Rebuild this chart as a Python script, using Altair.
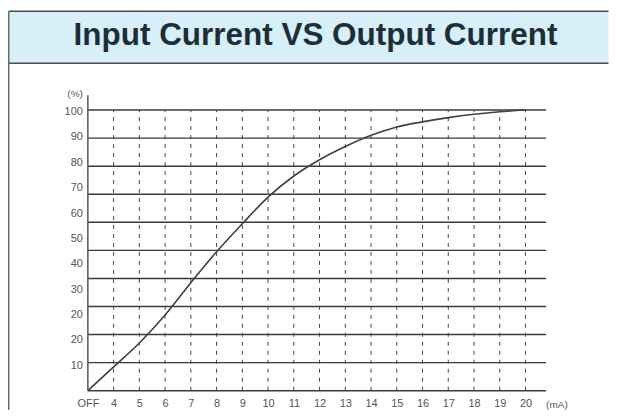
import altair as alt
import pandas as pd

# ---- data ----
title_text = "Input Current VS Output Current"
x_ticks = [3, 4, 5, 6, 7, 8, 9, 10, 11, 12, 13, 14, 15, 16, 17, 18, 19, 20]  # 3 is shown as "OFF"
curve_x = [3, 4, 5, 6, 7, 8, 9, 10, 11, 12, 13, 14, 15, 16, 17, 18, 19, 20]
curve_y = [0, 8.5, 17, 27, 38.5, 49.5, 59.5, 69, 76.5, 82.3, 87, 91, 94, 95.8, 97.3, 98.5, 99.4, 100]
y_grid = [0, 10, 20, 30, 40, 50, 60, 70, 80, 90, 100]
y_tick_labels = ["100", "90", "80", "70", "60", "50", "40", "30", "20", "20", "10"]
x_unit = "(mA)"
y_unit = "(%)"

# label positions in the reference drift from the grid: evenly from 99.3 down to 8.9
label_pos = [99.3 - i * (99.3 - 8.9) / (len(y_tick_labels) - 1) for i in range(len(y_tick_labels))]

W, H = 459, 296
XDOM = [3, 20.8]
YDOM = [0, 105.3]
FONT = "Liberation Sans"

curve_df = pd.DataFrame({"x": curve_x, "y": curve_y})
hgrid_df = pd.DataFrame({"y": y_grid})
vgrid_df = pd.DataFrame({"x": x_ticks[1:], "y0": [0] * (len(x_ticks) - 1), "y1": [100] * (len(x_ticks) - 1)})
ylab_df = pd.DataFrame({"label": y_tick_labels, "pos": label_pos})
one = pd.DataFrame({"t": [title_text]})

xs = alt.Scale(domain=XDOM, nice=False, zero=False)
ys = alt.Scale(domain=YDOM, nice=False, zero=False)

x_axis = alt.Axis(
    values=x_ticks,
    labelExpr="datum.value == 3 ? 'OFF' : datum.label",
    grid=False, domain=False, ticks=False, title=None,
    labelFontSize=11, labelColor="#555555", labelPadding=7, labelFont=FONT,
    labelOverlap=False, labelFlush=False, labelBound=False,
)

# decorative frame
BOX_L, BOX_R, BOX_T, BOX_B = -79.25, 521.5, -84, -32
title_box = alt.Chart(one).mark_rect(fill="#d7eff8").encode(
    x=alt.value(BOX_L), x2=alt.value(BOX_R), y=alt.value(BOX_T), y2=alt.value(BOX_B)
)
box_top = alt.Chart(one).mark_rule(color="#4a4a4a", strokeWidth=1.5).encode(
    x=alt.value(BOX_L), x2=alt.value(BOX_R), y=alt.value(BOX_T)
)
box_bottom = alt.Chart(one).mark_rule(color="#4a4a4a", strokeWidth=1.5).encode(
    x=alt.value(BOX_L), x2=alt.value(BOX_R), y=alt.value(BOX_B)
)
panel_left = alt.Chart(one).mark_rule(color="#6a6a6a", strokeWidth=1.5).encode(
    x=alt.value(BOX_L), y=alt.value(BOX_T), y2=alt.value(315)
)
title = alt.Chart(one).mark_text(
    font=FONT, fontSize=31.5, fontWeight="bold", color="#1e2e36", baseline="alphabetic", align="center"
).encode(text="t:N", x=alt.value(228), y=alt.value(-50))

hgrid = alt.Chart(hgrid_df).mark_rule(color="#3a3a3a", strokeWidth=1.4).encode(
    y=alt.Y("y:Q", scale=ys, axis=None)
)
vgrid = alt.Chart(vgrid_df).mark_rule(color="#444444", strokeWidth=1, strokeDash=[4, 5]).encode(
    x=alt.X("x:Q", scale=xs, axis=x_axis), y=alt.Y("y0:Q", scale=ys, axis=None), y2="y1:Q"
)
yaxis_line = alt.Chart(one).mark_rule(color="#555555", strokeWidth=1.5).encode(
    x=alt.value(0), y=alt.value(0), y2=alt.value(H)
)

curve = alt.Chart(curve_df).mark_line(color="#404040", strokeWidth=1.6, interpolate="monotone").encode(
    x=alt.X("x:Q", scale=xs, axis=x_axis),
    y=alt.Y("y:Q", scale=ys, axis=None),
)

ylabels = alt.Chart(ylab_df).mark_text(
    font=FONT, fontSize=11, color="#555555", align="right", baseline="middle"
).encode(text="label:N", y=alt.Y("pos:Q", scale=ys, axis=None), x=alt.value(-5))

yunit = alt.Chart(pd.DataFrame({"t": [y_unit]})).mark_text(
    font=FONT, fontSize=10, color="#555555", align="right", baseline="middle"
).encode(text="t:N", x=alt.value(-5), y=alt.value(-1))

xunit = alt.Chart(pd.DataFrame({"t": [x_unit]})).mark_text(
    font=FONT, fontSize=10, color="#555555", align="left", baseline="middle"
).encode(text="t:N", x=alt.value(459), y=alt.value(310))

chart = alt.layer(
    title_box, box_top, box_bottom, panel_left, title,
    hgrid, vgrid, yaxis_line, curve, ylabels, yunit, xunit
).properties(
    width=W, height=H,
    padding={"left": 0, "top": 2, "right": 0, "bottom": 0},
    background="white",
).configure_view(stroke=None)

chart.save("out.html", embed_options={"renderer": "svg", "actions": False})
